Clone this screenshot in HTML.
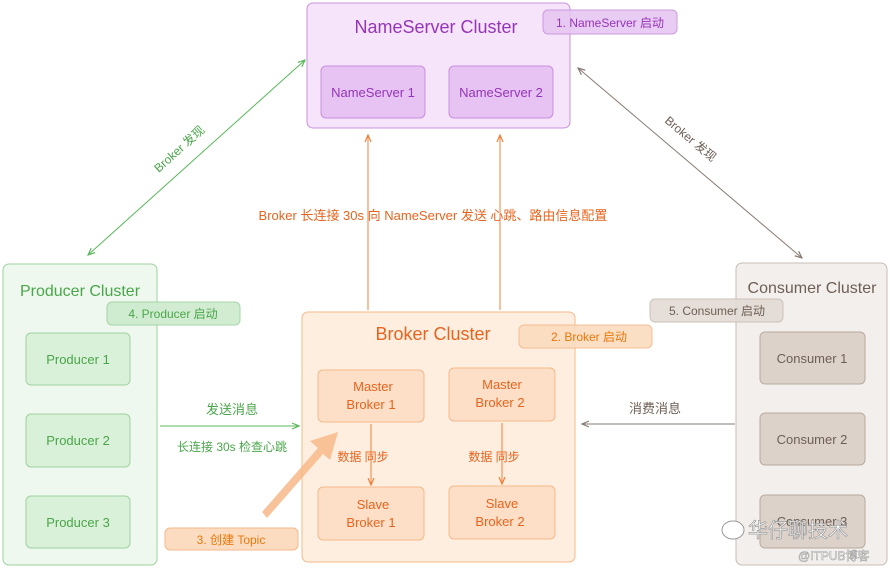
<!DOCTYPE html>
<html><head><meta charset="utf-8"><style>
html,body{margin:0;padding:0;background:#fff;}
svg text{font-family:"Liberation Sans","Noto Sans CJK SC",sans-serif;}
</style></head><body>
<svg width="890" height="568" viewBox="0 0 890 568" xmlns="http://www.w3.org/2000/svg">
<defs>
<marker id="ag" markerWidth="8" markerHeight="8" refX="7" refY="4" orient="auto-start-reverse"><path d="M0,1 L7,4 L0,7" fill="none" stroke="#5bb85b" stroke-width="1.2"/></marker>
<marker id="ab" markerWidth="8" markerHeight="8" refX="7" refY="4" orient="auto-start-reverse"><path d="M0,1 L7,4 L0,7" fill="none" stroke="#8a7d74" stroke-width="1.2"/></marker>
<marker id="ao" markerWidth="8" markerHeight="8" refX="7" refY="4" orient="auto"><path d="M0,1 L7,4 L0,7" fill="none" stroke="#f0823c" stroke-width="1.2"/></marker>
</defs>
<!-- NameServer -->
<rect x="307" y="3" width="263" height="125" rx="6" fill="#f6e4fb" stroke="#c890dc"/>
<text x="436" y="33" font-size="18" fill="#9535b8" text-anchor="middle">NameServer Cluster</text>
<rect x="543" y="10" width="134" height="24" rx="5" fill="#e7c7f2" stroke="#c890dc" opacity="0.9"/>
<text x="610" y="27" font-size="12" fill="#9535b8" text-anchor="middle">1. NameServer 启动</text>
<rect x="321" y="66" width="104" height="52" rx="5" fill="#e6c3f2" stroke="#c890dc"/>
<text x="373" y="97" font-size="13" fill="#9535b8" text-anchor="middle">NameServer 1</text>
<rect x="449" y="66" width="104" height="52" rx="5" fill="#e6c3f2" stroke="#c890dc"/>
<text x="501" y="97" font-size="13" fill="#9535b8" text-anchor="middle">NameServer 2</text>
<!-- Producer -->
<rect x="3" y="264" width="154" height="301" rx="6" fill="#eef8ee" stroke="#9ed29e"/>
<text x="80" y="296" font-size="16" fill="#4aa64a" text-anchor="middle">Producer Cluster</text>
<rect x="107" y="302" width="133" height="23" rx="5" fill="#cdebcd" stroke="#9ed29e" opacity="0.9"/>
<text x="173" y="318" font-size="12" fill="#4aa64a" text-anchor="middle">4. Producer 启动</text>
<g fill="#d9f0d9" stroke="#9ed29e">
<rect x="26" y="333" width="104" height="52" rx="5"/><rect x="26" y="414" width="104" height="53" rx="5"/><rect x="26" y="496" width="104" height="52" rx="5"/></g>
<g font-size="13" fill="#4aa64a" text-anchor="middle"><text x="78" y="364">Producer 1</text><text x="78" y="445">Producer 2</text><text x="78" y="527">Producer 3</text></g>
<!-- Broker -->
<rect x="302" y="312" width="273" height="250" rx="6" fill="#fdeee0" stroke="#f5b98a"/>
<text x="433" y="340" font-size="18" fill="#e8641e" text-anchor="middle">Broker Cluster</text>
<rect x="519" y="325" width="133" height="23" rx="5" fill="#fbdcbf" stroke="#f5b98a" opacity="0.9"/>
<text x="589" y="341" font-size="12" fill="#e8780a" text-anchor="middle">2. Broker 启动</text>
<g fill="#fcdfc6" stroke="#f5b98a">
<rect x="318" y="370" width="106" height="52" rx="5"/><rect x="449" y="368" width="106" height="53" rx="5"/><rect x="318" y="487" width="106" height="53" rx="5"/><rect x="449" y="486" width="106" height="53" rx="5"/></g>
<g font-size="13" fill="#e8641e" text-anchor="middle">
<text x="373" y="391">Master</text><text x="371" y="409">Broker 1</text>
<text x="502" y="389">Master</text><text x="500" y="407">Broker 2</text>
<text x="373" y="509">Slave</text><text x="371" y="527">Broker 1</text>
<text x="502" y="508">Slave</text><text x="500" y="526">Broker 2</text></g>
<line x1="371" y1="424" x2="371" y2="485" stroke="#f0823c" marker-end="url(#ao)"/>
<line x1="502" y1="423" x2="502" y2="484" stroke="#f0823c" marker-end="url(#ao)"/>
<g font-size="12" fill="#e8641e" text-anchor="middle"><text x="363" y="461">数据 同步</text><text x="494" y="461">数据 同步</text></g>
<!-- Consumer -->
<rect x="736" y="263" width="151" height="302" rx="6" fill="#f3efec" stroke="#c8bcb4"/>
<text x="812" y="293" font-size="16" fill="#6e5f55" text-anchor="middle">Consumer Cluster</text>
<rect x="650" y="299" width="133" height="23" rx="5" fill="#e3dbd5" stroke="#c8bcb4" opacity="0.9"/>
<text x="717" y="315" font-size="12" fill="#6e5f55" text-anchor="middle">5. Consumer 启动</text>
<g fill="#ddd2ca" stroke="#b8a99f">
<rect x="760" y="332" width="105" height="52" rx="5"/><rect x="760" y="413" width="105" height="52" rx="5"/><rect x="760" y="495" width="105" height="53" rx="5"/></g>
<g font-size="13" fill="#6e5f55" text-anchor="middle"><text x="812" y="363">Consumer 1</text><text x="812" y="444">Consumer 2</text><text x="812" y="526">Consumer 3</text></g>
<!-- connectors -->
<line x1="368" y1="310" x2="368" y2="135" stroke="#f0823c" marker-end="url(#ao)"/>
<line x1="500" y1="310" x2="500" y2="135" stroke="#f0823c" marker-end="url(#ao)"/>
<text x="433" y="220" font-size="13" fill="#e8641e" text-anchor="middle">Broker 长连接 30s 向 NameServer 发送 心跳、路由信息配置</text>
<line x1="88" y1="255" x2="305" y2="60" stroke="#5bb85b" marker-start="url(#ag)" marker-end="url(#ag)"/>
<text x="0" y="0" font-size="12" fill="#4aa64a" text-anchor="middle" transform="translate(182,152) rotate(-42)">Broker 发现</text>
<line x1="578" y1="68" x2="802" y2="258" stroke="#8a7d74" marker-start="url(#ab)" marker-end="url(#ab)"/>
<text x="0" y="0" font-size="12" fill="#6e5f55" text-anchor="middle" transform="translate(688,142) rotate(40)">Broker 发现</text>
<line x1="160" y1="426" x2="299" y2="426" stroke="#5bb85b" marker-end="url(#ag)"/>
<text x="232" y="414" font-size="13" fill="#4aa64a" text-anchor="middle">发送消息</text>
<text x="232" y="451" font-size="12" fill="#4aa64a" text-anchor="middle">长连接 30s 检查心跳</text>
<line x1="735" y1="424" x2="582" y2="424" stroke="#8a7d74" marker-end="url(#ab)"/>
<text x="655" y="413" font-size="13" fill="#6e5f55" text-anchor="middle">消费消息</text>
<!-- big topic arrow -->
<path d="M262,512 L318,448 L310,441 L338,432 L330,460 L323,454 L267,518 Z" fill="#f7b888" opacity="0.85"/>
<rect x="165" y="528" width="133" height="22" rx="5" fill="#fcdcc0" stroke="#f5b98a"/>
<text x="231" y="544" font-size="12" fill="#e8780a" text-anchor="middle">3. 创建 Topic</text>
<!-- watermark -->
<ellipse cx="733" cy="530" rx="11" ry="9" fill="#fff" stroke="#999"/>
<text x="748" y="537" font-size="20" fill="#ffffff" stroke="#999" stroke-width="0.7">华仔聊技术</text>
<text x="798" y="560" font-size="12" fill="#ffffff" stroke="#999" stroke-width="0.5">@ITPUB博客</text>
</svg>
</body></html>
